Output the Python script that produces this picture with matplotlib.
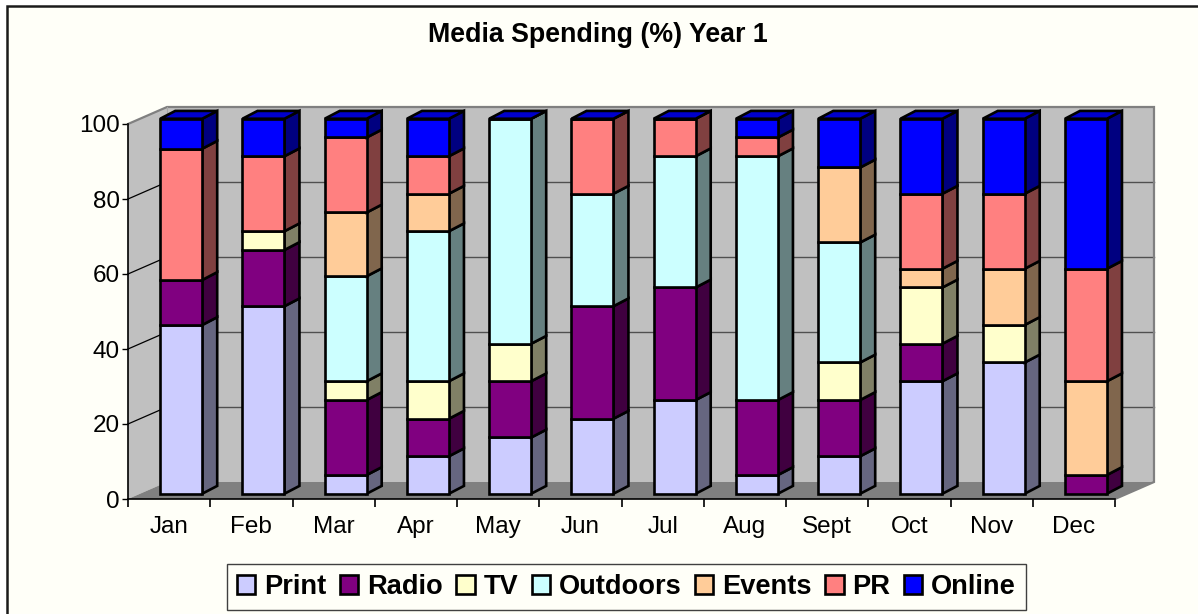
"""Media Spending (%) Year 1 - Excel style 3D stacked columns."""
import matplotlib
matplotlib.use("Agg")
import matplotlib.pyplot as plt
from matplotlib.patches import Polygon, Patch
import numpy as np

months = ["Jan", "Feb", "Mar", "Apr", "May", "Jun", "Jul", "Aug", "Sept", "Oct", "Nov", "Dec"]
series_names = ["Print", "Radio", "TV", "Outdoors", "Events", "PR", "Online"]

print_pct = [45, 50, 5, 10, 15, 20, 25, 5, 10, 30, 35, 0]
radio_pct = [12, 15, 20, 10, 15, 30, 30, 20, 15, 10, 0, 5]
tv_pct = [0, 5, 5, 10, 10, 0, 0, 0, 10, 15, 10, 0]
outdoors_pct = [0, 0, 28, 40, 60, 30, 35, 65, 32, 0, 0, 0]
events_pct = [0, 0, 17, 10, 0, 0, 0, 0, 20, 5, 15, 25]
pr_pct = [35, 20, 20, 10, 0, 20, 10, 5, 0, 20, 20, 30]
online_pct = [8, 10, 5, 10, 0, 0, 0, 5, 13, 20, 20, 40]

# front / side / top face colours
FRONT = ["#CCCCFF", "#800080", "#FFFFCC", "#CCFFFF", "#FFCC99", "#FF8080", "#0000FF"]
SIDE = ["#666680", "#400040", "#808066", "#668080", "#80664D", "#804040", "#000080"]
TOP_ONLINE = "#0000CC"

BG = "#FFFFF8"
WALL = "#C0C0C0"
FLOOR = "#808080"

W, H = 1198, 614
# 3D depth in data units (categories, percent)
DEPTH_X = 39 / 82.25
DEPTH_Y = 17 / 3.75
GAP_X, GAP_Y = 0.31 * DEPTH_X, 0.31 * DEPTH_Y
BAR_DX, BAR_DY = 0.385 * DEPTH_X, 0.46 * DEPTH_Y
BAR_W = 0.51

plt.rcParams["font.family"] = ["Liberation Sans", "DejaVu Sans"]

fig = plt.figure(figsize=(W / 100, H / 100), dpi=100, facecolor="white")

# chart area: ivory, border only shows on the top and left, rest runs off the image
fig.add_artist(plt.Rectangle((6.5 / W, -0.05), 1.1, 1.05 - 5.5 / H, transform=fig.transFigure,
                             fc=BG, ec="#1A1A1A", lw=1.8, zorder=-5))

ax = fig.add_axes([128 / W, (H - 499) / H, 987 / W, 375 / H], facecolor="none")
ax.set_xlim(0, len(months))
ax.set_ylim(0, 100)

# walls and floor
n = len(months)
ax.add_patch(Polygon([(DEPTH_X, DEPTH_Y), (n + DEPTH_X, DEPTH_Y), (n + DEPTH_X, 100 + DEPTH_Y), (DEPTH_X, 100 + DEPTH_Y)],
                     fc=WALL, ec="none", clip_on=False, zorder=1))
ax.add_patch(Polygon([(0, 0), (DEPTH_X, DEPTH_Y), (DEPTH_X, 100 + DEPTH_Y), (0, 100)],
                     fc=WALL, ec="none", clip_on=False, zorder=1))
ax.add_patch(Polygon([(0, 0), (n, 0), (n + DEPTH_X, DEPTH_Y), (DEPTH_X, DEPTH_Y)],
                     fc=FLOOR, ec="none", clip_on=False, zorder=1))

# gridlines: back wall + diagonal on the left wall
for v in range(20, 100, 20):
    ax.plot([DEPTH_X, n + DEPTH_X], [v + DEPTH_Y] * 2, color="#505050", lw=1, clip_on=False, zorder=2)
    ax.plot([0, DEPTH_X], [v, v + DEPTH_Y], color="black", lw=0.9, clip_on=False, zorder=2)

# wall edges
ax.plot([0, DEPTH_X, n + DEPTH_X, n + DEPTH_X, n], [100, 100 + DEPTH_Y, 100 + DEPTH_Y, DEPTH_Y, 0],
        color="#808080", lw=1.6, clip_on=False, zorder=2, solid_joinstyle="miter")
ax.plot([DEPTH_X, DEPTH_X], [DEPTH_Y, 100 + DEPTH_Y], color="#A8A8A8", lw=0.8, clip_on=False, zorder=2)

# stacked columns
table = np.array([print_pct, radio_pct, tv_pct, outdoors_pct, events_pct, pr_pct, online_pct], dtype=float)
bottoms = np.cumsum(np.vstack([np.zeros(n), table[:-1]]), axis=0)
z = 3
style = dict(ec="black", lw=1.9, joinstyle="miter", clip_on=False)
for i in range(n):
    x0 = i + 0.5 - BAR_W / 2 + GAP_X
    x1 = x0 + BAR_W
    for s in range(len(series_names)):
        lo = bottoms[s, i] + GAP_Y
        hi = lo + table[s, i]
        if table[s, i] == 0 and s != len(series_names) - 1:
            continue
        ax.add_patch(Polygon([(x1, lo), (x1 + BAR_DX, lo + BAR_DY), (x1 + BAR_DX, hi + BAR_DY), (x1, hi)],
                             fc=SIDE[s], zorder=z, **style))
        ax.add_patch(Polygon([(x0, lo), (x1, lo), (x1, hi), (x0, hi)],
                             fc=FRONT[s], zorder=z, **style))
        z += 1
    top = bottoms[-1, i] + table[-1, i] + GAP_Y
    ax.add_patch(Polygon([(x0, top), (x1, top), (x1 + BAR_DX, top + BAR_DY), (x0 + BAR_DX, top + BAR_DY)],
                         fc=TOP_ONLINE, zorder=z, **style))
    z += 1

# axes furniture
for side in ("top", "right"):
    ax.spines[side].set_visible(False)
for side in ("left", "bottom"):
    ax.spines[side].set_color("black")
    ax.spines[side].set_linewidth(1.2)
    ax.spines[side].set_zorder(z + 1)
ax.set_yticks(range(0, 101, 20))
ax.set_xticks(range(n + 1))
ax.set_xticklabels([])
ax.set_xticks(np.arange(n) + 0.5, minor=True)
ax.set_xticklabels(months, minor=True)
ax.tick_params(axis="x", which="major", length=5.5, width=1.2, color="black")
ax.tick_params(axis="x", which="minor", length=0, labelsize=17.5, pad=12)
ax.tick_params(axis="y", length=4.5, width=1.0, color="black", labelsize=17.5, pad=1.5)

fig.text(598 / W, 1 - 42 / H, "Media Spending (%) Year 1", ha="center", va="baseline",
         fontsize=19.3, fontweight="bold")

handles = [Patch(fc=c, ec="black", lw=1.9) for c in FRONT]
leg = fig.legend(handles, series_names, ncol=7, loc="center", bbox_to_anchor=(626.5 / W, 1 - 587 / H),
                 prop={"size": 19.6, "weight": "bold"}, frameon=True, fancybox=False, framealpha=1,
                 facecolor=BG, edgecolor="#404040", handlelength=0.67, handleheight=0.67,
                 handletextpad=0.33, columnspacing=0.495, borderpad=0.37, borderaxespad=0)

fig.savefig("out.png", dpi=100, facecolor="white")
